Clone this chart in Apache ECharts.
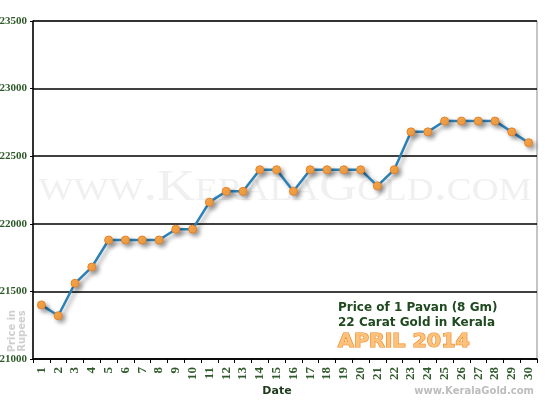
<!DOCTYPE html>
<html>
<head>
<meta charset="utf-8">
<script src="https://cdn.jsdelivr.net/npm/echarts@6/dist/echarts.min.js"></script>
<style>
html,body{margin:0;padding:0;background:#fff;}
#c{width:550px;height:400px;}
</style>
</head>
<body>
<div id="c"></div>
<script>
var days = ['1','2','3','4','5','6','7','8','9','10','11','12','13','14','15','16','17','18','19','20','21','22','23','24','25','26','27','28','29','30'];
var prices = [21400,21320,21560,21680,21880,21880,21880,21880,21960,21960,22160,22240,22240,22400,22400,22240,22400,22400,22400,22400,22280,22400,22680,22680,22760,22760,22760,22760,22680,22600];
var yMin = 21000, yMax = 23500, yStep = 500;
var titleLine1 = 'Price of 1 Pavan (8 Gm)';
var titleLine2 = '22 Carat Gold in Kerala';
var titleLine3 = 'APRIL 2014';

var chart = echarts.init(document.getElementById('c'), null, {renderer:'canvas'});
chart.setOption({
  animation: false,
  backgroundColor: '#fff',
  grid: {left: 33, right: 13, top: 21, bottom: 41, show: true, borderColor: '#8a8a8a', borderWidth: 1, backgroundColor: 'transparent', containLabel: false, outerBoundsMode: 'none'},
  xAxis: {
    type: 'category',
    data: days,
    boundaryGap: true,
    axisLine: {show: true, lineStyle: {color: '#000', width: 1.5}},
    axisTick: {show: true, length: 4, lineStyle: {color: '#000', width: 1}},
    axisLabel: {rotate: 90, margin: 8, fontFamily: 'Liberation Serif', fontWeight: 'bold', fontSize: 13, color: '#2f5a2a', interval: 0},
    splitLine: {show: false}
  },
  yAxis: {
    type: 'value',
    min: yMin, max: yMax, interval: yStep,
    axisLine: {show: true, lineStyle: {color: '#000', width: 1.5}},
    axisTick: {show: true, length: 3, lineStyle: {color: '#000'}},
    axisLabel: {margin: 6, fontFamily: 'Liberation Serif', fontWeight: 'bold', fontSize: 11, color: '#2f5a2a', formatter: function (v) { return String(v); }},
    splitLine: {show: true, lineStyle: {color: '#000', width: 1.5}}
  },
  graphic: [
    {type: 'text', z: 0, x: 285, y: 188, scaleX: 1.2, style: {text: 'www.KeralaGold.com', font: 'small-caps 44px "Liberation Serif"', fill: '#f0f0f0', align: 'center', verticalAlign: 'middle'}},
    {type: 'text', z: 10, x: 17, y: 331, rotation: Math.PI/2, style: {text: 'Price in\nRupees', font: 'bold 10px "DejaVu Sans"', fill: '#cfcfcf', align: 'center', verticalAlign: 'middle', lineHeight: 10}},
    {type: 'text', z: 10, x: 277, y: 391, style: {text: 'Date', font: 'bold 11px "DejaVu Sans"', fill: '#1d3a1d', align: 'center', verticalAlign: 'middle'}},
    {type: 'text', z: 10, x: 338, y: 308, style: {text: titleLine1, font: 'bold 12px "DejaVu Sans"', fill: '#1f4a1f', align: 'left', verticalAlign: 'middle'}},
    {type: 'text', z: 10, x: 338, y: 323, style: {text: titleLine2, font: 'bold 12px "DejaVu Sans"', fill: '#1f4a1f', align: 'left', verticalAlign: 'middle'}},
    {type: 'text', z: 10, x: 338, y: 342, scaleX: 1.08, style: {text: titleLine3, font: 'bold 19px "DejaVu Sans"', fill: '#fcc27c', stroke: '#ee8620', lineWidth: 1.2, align: 'left', verticalAlign: 'middle'}},
    {type: 'text', z: 10, x: 534, y: 391, style: {text: 'www.KeralaGold.com', font: 'bold 10px "DejaVu Sans"', fill: '#bdbdbd', align: 'right', verticalAlign: 'middle'}}
  ],
  series: [{
    type: 'line',
    data: prices,
    z: 3,
    symbol: 'circle',
    symbolSize: 8,
    lineStyle: {color: '#2b80b6', width: 2.5, shadowColor: 'rgba(0,0,0,0.35)', shadowBlur: 4, shadowOffsetX: 3, shadowOffsetY: 3},
    itemStyle: {color: '#f9a547', borderColor: '#e5822a', borderWidth: 1, shadowColor: 'rgba(0,0,0,0.3)', shadowBlur: 4, shadowOffsetX: 3, shadowOffsetY: 3}
  }]
});
</script>
</body>
</html>
